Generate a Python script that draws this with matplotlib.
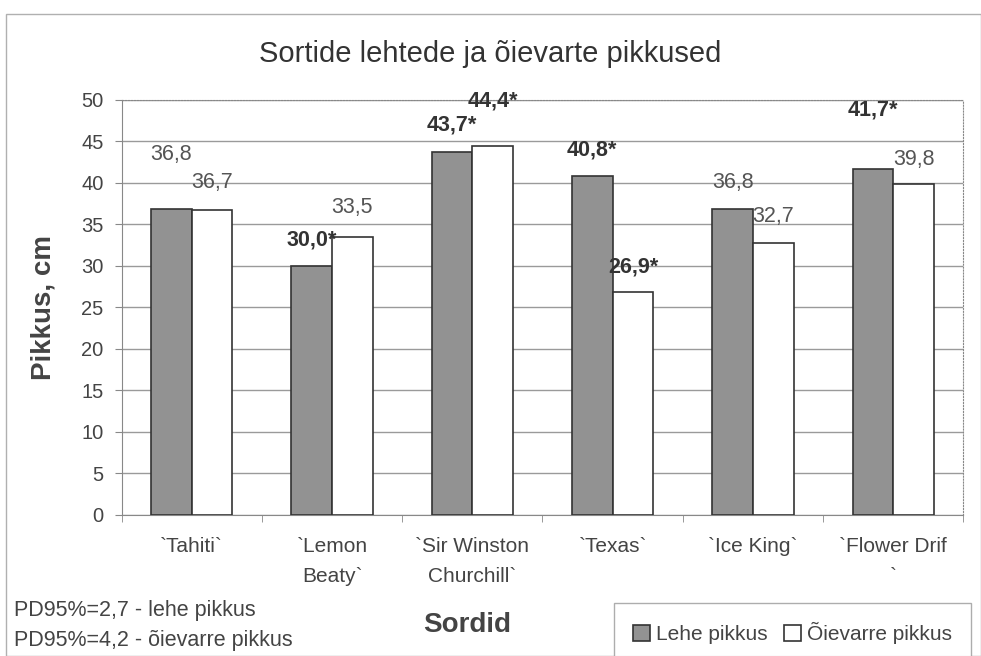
import numpy as np
import matplotlib.pyplot as plt
from matplotlib.patches import Rectangle

plt.rcParams['font.family'] = ['Liberation Sans', 'DejaVu Sans']

# Andmed
sordid = ["`Tahiti`", "`Lemon\nBeaty`", "`Sir Winston\nChurchill`",
          "`Texas`", "`Ice King`", "`Flower Drif\n`"]
lehe = [36.8, 30.0, 43.7, 40.8, 36.8, 41.7]
oievarre = [36.7, 33.5, 44.4, 26.9, 32.7, 39.8]
lehe_olul = [False, True, True, True, False, True]
oie_olul = [False, False, True, True, False, False]

# sildi kõrgused (käsitsi nihutatud nagu Excelis)
lehe_sildi_y = [43.4, 33.1, 47.0, 44.0, 40.0, 48.8]
oie_sildi_y = [40.0, 37.0, 49.8, 29.9, 35.9, 42.8]

fig = plt.figure(figsize=(9.81, 6.56), dpi=100)
fig.patches.append(Rectangle((0.006, 0.0), 0.994, 0.978, transform=fig.transFigure,
                             fill=False, edgecolor='#b0b0b0', linewidth=1))

ax = fig.add_axes([0.124, 0.215, 0.858, 0.633])
x = np.arange(len(sordid))
w = 0.29

ax.bar(x - w / 2, lehe, w, color='#929292', edgecolor='#333333', linewidth=1.2,
       label='Lehe pikkus', zorder=3)
ax.bar(x + w / 2, oievarre, w, color='white', edgecolor='#333333', linewidth=1.2,
       label='Õievarre pikkus', zorder=3)

def fmt(v, star):
    s = f"{v:.1f}".replace('.', ',')
    return s + '*' if star else s

for i in range(len(sordid)):
    for xv, v, st, ly in [(x[i] - w / 2, lehe[i], lehe_olul[i], lehe_sildi_y[i]),
                          (x[i] + w / 2, oievarre[i], oie_olul[i], oie_sildi_y[i])]:
        ax.text(xv, ly, fmt(v, st), ha='center', va='center', fontsize=15.5,
                fontweight='bold' if st else 'normal',
                color='#333333' if st else '#555555', zorder=4)

ax.set_xlim(-0.5, len(sordid) - 0.5)
ax.set_ylim(0, 50)
ax.set_yticks(np.arange(0, 51, 5))
ax.set_xticks(x)
ax.set_xticklabels(sordid, fontsize=15, color='#444444', linespacing=1.75)
ax.set_xticks(np.arange(-0.5, len(sordid), 1), minor=True)
ax.tick_params(axis='x', which='major', length=0, pad=16)
ax.tick_params(axis='x', which='minor', length=5, color='#888888')
ax.tick_params(axis='y', labelsize=14.5, labelcolor='#444444', length=5,
               color='#888888', pad=8)
ax.yaxis.grid(True, color='#9a9a9a', linewidth=1, zorder=0)

for side in ['top', 'right']:
    ax.spines[side].set_linestyle(':')
    ax.spines[side].set_color('#888888')
for side in ['left', 'bottom']:
    ax.spines[side].set_color('#888888')

ax.set_ylabel('Pikkus, cm', fontsize=20, fontweight='bold', color='#444444', labelpad=18)
fig.text(0.476, 0.048, 'Sordid', fontsize=20, fontweight='bold', color='#444444',
         ha='center', va='center')
fig.text(0.5, 0.917, 'Sortide lehtede ja õievarte pikkused', fontsize=21,
         color='#333333', ha='center', va='center')

fig.text(0.014, 0.07, 'PD95%=2,7 - lehe pikkus', fontsize=15.5, color='#444444', va='center')
fig.text(0.014, 0.024, 'PD95%=4,2 - õievarre pikkus', fontsize=15.5, color='#444444', va='center')

leg = fig.legend(loc='center', bbox_to_anchor=(0.808, 0.035), ncol=2, fontsize=15,
                 frameon=True, fancybox=False, edgecolor='#999999',
                 handlelength=0.8, handleheight=0.8, handletextpad=0.3,
                 columnspacing=0.8, borderpad=0.9)
for t in leg.get_texts():
    t.set_color('#444444')

fig.savefig('out.png', dpi=100)
